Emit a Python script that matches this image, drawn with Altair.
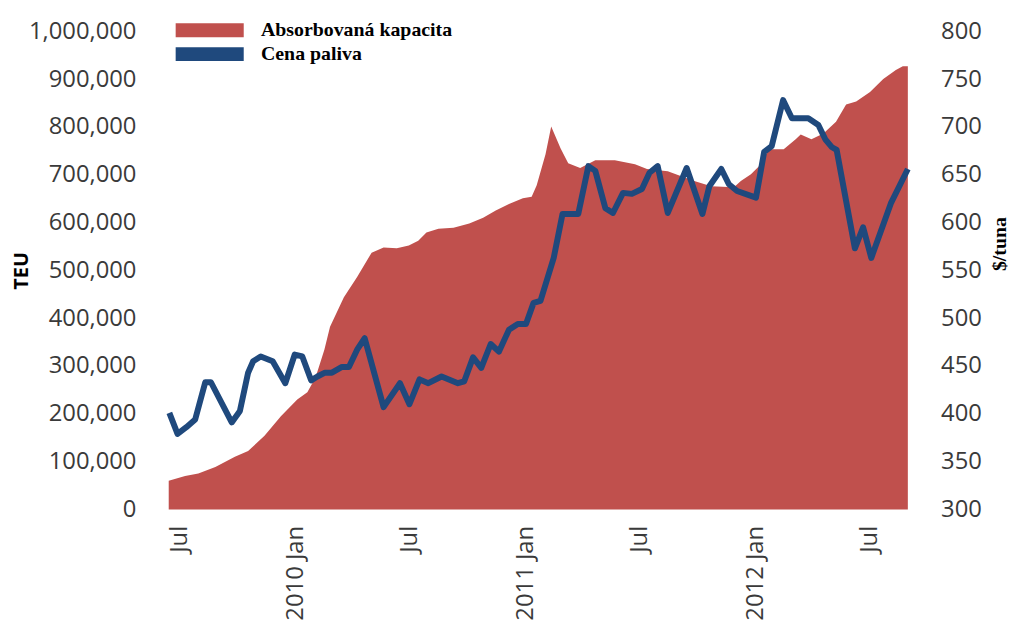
import altair as alt
import pandas as pd

# ---- data ----
area_dates = ["2009-06-14","2009-07-10","2009-07-31","2009-08-27","2009-09-27","2009-10-18","2009-11-13","2009-12-09",
              "2010-01-04","2010-01-20","2010-02-02","2010-02-16","2010-02-25","2010-03-19","2010-04-09","2010-05-02",
              "2010-05-21","2010-06-11","2010-06-30","2010-07-15","2010-07-28","2010-08-16","2010-09-09","2010-10-04",
              "2010-10-26","2010-11-15","2010-12-06","2010-12-28","2011-01-11","2011-01-19","2011-02-02","2011-02-11",
              "2011-02-26","2011-03-10","2011-03-29","2011-04-22","2011-05-23","2011-06-24","2011-07-13","2011-08-15",
              "2011-09-26","2011-10-23","2011-11-28","2011-12-09","2011-12-25","2012-01-10","2012-01-22","2012-02-15",
              "2012-03-05","2012-03-13","2012-03-30","2012-04-18","2012-05-08","2012-05-24","2012-06-09","2012-07-01",
              "2012-07-22","2012-08-11","2012-08-22","2012-08-30"]
area_teu = [60000,70000,75000,89000,110000,122000,154000,195000,
            230000,245000,276000,334000,382000,444000,486000,537000,
            548000,546000,552000,562000,579000,587000,589000,598000,
            610000,625000,639000,651000,654000,678000,743000,801000,
            755000,724000,714000,730000,730000,722000,712000,707000,
            687000,676000,674000,687000,701000,722000,753000,753000,
            774000,784000,774000,786000,811000,847000,853000,873000,
            900000,919000,927000,927000]

line_dates = ["2009-06-15","2009-06-28","2009-07-12","2009-07-26","2009-08-11","2009-08-20","2009-09-22","2009-10-05",
              "2009-10-18","2009-10-26","2009-11-07","2009-11-26","2009-12-16","2009-12-31","2010-01-12","2010-01-26",
              "2010-02-05","2010-02-17","2010-02-28","2010-03-16","2010-03-27","2010-04-09","2010-04-21","2010-05-21",
              "2010-06-16","2010-07-01","2010-07-17","2010-07-31","2010-08-21","2010-09-16","2010-09-26","2010-10-10",
              "2010-10-23","2010-11-07","2010-11-20","2010-12-06","2010-12-20","2011-01-02","2011-01-14","2011-01-25",
              "2011-02-15","2011-03-01","2011-03-26","2011-04-11","2011-04-22","2011-05-08","2011-05-20","2011-06-05",
              "2011-06-19","2011-07-05","2011-07-17","2011-07-30","2011-08-15","2011-09-14","2011-10-09","2011-10-20",
              "2011-11-08","2011-11-20","2011-12-03","2012-01-02","2012-01-15","2012-01-27","2012-02-14","2012-02-28",
              "2012-03-25","2012-04-10","2012-04-21","2012-05-01","2012-05-09","2012-06-07","2012-06-20","2012-07-03",
              "2012-08-03","2012-08-30"]
line_price = [401,379,386,394,433,433,391,403,
              443,455,460,455,432,462,460,435,
              439,443,443,449,449,467,479,407,
              432,410,436,432,439,432,434,459,
              448,473,465,488,494,494,516,518,
              563,609,609,659,654,615,610,631,
              630,635,652,659,610,657,609,638,
              656,640,633,626,674,680,728,709,
              709,702,687,679,676,573,595,563,
              620,656]

series_names = ["Absorbovaná kapacita", "Cena paliva"]
series_colors = ["#C0504D", "#1F497D"]
teu_ticks = [0,100000,200000,300000,400000,500000,600000,700000,800000,900000,1000000]
price_ticks = [300,350,400,450,500,550,600,650,700,750,800]

area_df = pd.DataFrame({"date": area_dates, "teu": area_teu, "series": series_names[0]})
line_df = pd.DataFrame({"date": line_dates, "price": line_price})

x_domain = [alt.DateTime(year=2009, month=6, date=14, utc=True),
            alt.DateTime(year=2012, month=8, date=30, utc=True)]
x_ticks = [alt.DateTime(year=2009, month=7, date=1, utc=True),
           alt.DateTime(year=2010, month=1, date=1, utc=True),
           alt.DateTime(year=2010, month=7, date=1, utc=True),
           alt.DateTime(year=2011, month=1, date=1, utc=True),
           alt.DateTime(year=2011, month=7, date=1, utc=True),
           alt.DateTime(year=2012, month=1, date=1, utc=True),
           alt.DateTime(year=2012, month=7, date=1, utc=True)]

LABEL_FONT = "Open Sans"
LABEL_SIZE = 24
LABEL_COLOR = "#3a3a3a"

x_enc = alt.X(
    "date:T",
    scale=alt.Scale(type="utc", domain=x_domain, nice=False),
    axis=alt.Axis(
        values=x_ticks,
        labelExpr="utcFormat(datum.value, '%m') == '01' ? utcFormat(datum.value, '%Y %b') : utcFormat(datum.value, '%b')",
        labelAngle=270, title=None, domain=False, ticks=False, grid=False,
        labelPadding=16, labelFont=LABEL_FONT, labelFontSize=LABEL_SIZE, labelColor=LABEL_COLOR,
        labelOverlap=False,
    ),
)

area = alt.Chart(area_df).mark_area(interpolate="linear").encode(
    x=x_enc,
    y=alt.Y(
        "teu:Q",
        scale=alt.Scale(domain=[0, 1000000], nice=False),
        axis=alt.Axis(
            orient="left", values=teu_ticks, format=",d", title="TEU",
            titleX=-148, titleY=241, titleAngle=270, titleAlign="center", titleBaseline="middle",
            titleFont="Open Sans", titleFontWeight="bold", titleFontSize=20, titleColor="#000000",
            labelPadding=33, ticks=False, domain=False, grid=False,
            labelFont=LABEL_FONT, labelFontSize=LABEL_SIZE, labelColor=LABEL_COLOR,
        ),
    ),
    color=alt.Color(
        "series:N",
        scale=alt.Scale(domain=series_names, range=series_colors),
        legend=alt.Legend(
            title=None, orient="none", legendX=4, legendY=-11, padding=0,
            symbolType="M-1,-1H8.8V1H-1Z", symbolSize=196, symbolStrokeWidth=0,
            labelFont="Liberation Serif", labelFontWeight="bold", labelFontSize=20,
            labelColor="#000000", labelOffset=69, rowPadding=4, labelLimit=400,
        ),
    ),
)

line = alt.Chart(line_df).mark_line(color=series_colors[1], strokeWidth=6, strokeJoin="round").encode(
    x=x_enc,
    y=alt.Y(
        "price:Q",
        scale=alt.Scale(domain=[300, 800], nice=False, zero=False),
        axis=alt.Axis(
            orient="right", values=price_ticks, title="$/tuna",
            titleX=92, titleY=214, titleAngle=270, titleAlign="center", titleBaseline="middle",
            titleFont="Liberation Serif", titleFontWeight="bold", titleFontSize=20, titleColor="#000000",
            labelPadding=33, ticks=False, domain=False, grid=False,
            labelFont=LABEL_FONT, labelFontSize=LABEL_SIZE, labelColor=LABEL_COLOR,
        ),
    ),
)

chart = alt.layer(area, line).resolve_scale(y="independent").properties(
    width=745, height=482,
    autosize=alt.AutoSizeParams(type="none"),
    padding={"left": 162, "top": 21, "right": 106, "bottom": 110},
).configure_view(stroke=None)

chart.save("out.html", embed_options={"renderer": "svg", "actions": False})
